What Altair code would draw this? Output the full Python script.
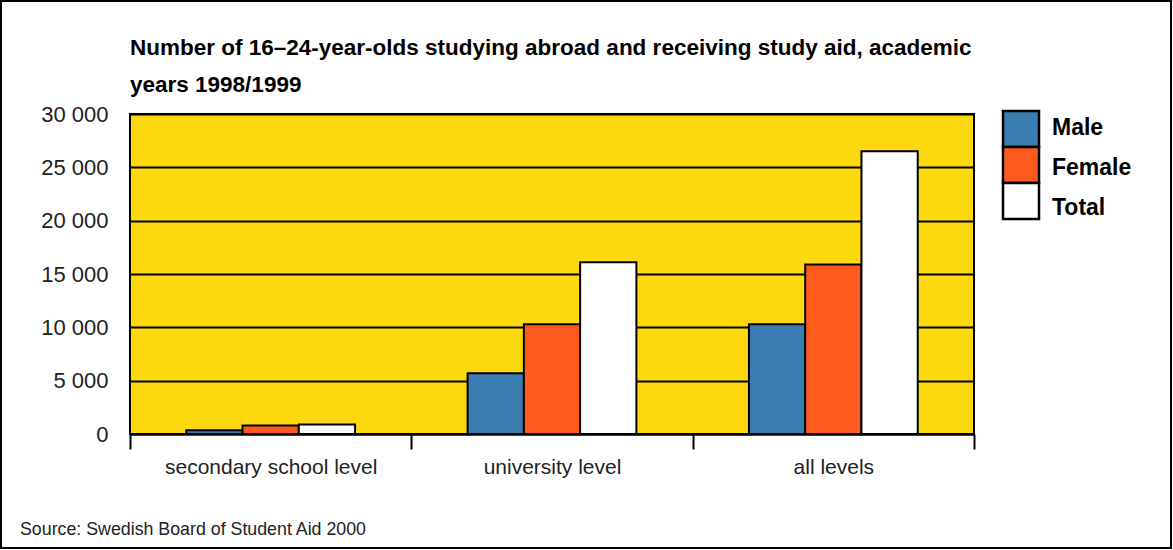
import altair as alt
import pandas as pd

levels = ["secondary school level", "university level", "all levels"]
series = ["Male", "Female", "Total"]
male = [350, 5700, 10300]
female = [800, 10300, 15900]
total = [900, 16100, 26500]
colors = ["#3A7DB0", "#FF5A1E", "#FFFFFF"]
title_line1 = "Number of 16\u201324-year-olds studying abroad and receiving study aid, academic"
title_line2 = "years 1998/1999"
source_note = "Source: Swedish Board of Student Aid 2000"

rows = []
for i, lv in enumerate(levels):
    for s, vals in zip(series, [male, female, total]):
        rows.append({"level": lv, "series": s, "value": vals[i]})
df = pd.DataFrame(rows)
legend_df = pd.DataFrame({"series": series})

FONT = "Liberation Sans"
fill_scale = alt.Scale(domain=series, range=colors)

bars = alt.Chart(df).mark_bar(stroke="black", strokeWidth=2).encode(
    x=alt.X("level:N", sort=levels, title=None,
            scale=alt.Scale(paddingInner=0, paddingOuter=0),
            axis=alt.Axis(tickBand="extent", labelAngle=0, labelFont=FONT, labelFontSize=21,
                          labelColor="#222", tickColor="black", tickWidth=2, tickSize=15,
                          domainColor="black", domainWidth=2, labelPadding=7, grid=False,
                          labelLimit=0)),
    xOffset=alt.XOffset("series:N", sort=series,
                        scale=alt.Scale(paddingOuter=1, paddingInner=0)),
    y=alt.Y("value:Q", title=None,
            scale=alt.Scale(domain=[0, 30000], nice=False),
            axis=alt.Axis(values=[0, 5000, 10000, 15000, 20000, 25000, 30000],
                          labelExpr="replace(format(datum.value, ','), ',', ' ')",
                          labelFont=FONT, labelFontSize=22, labelColor="#222",
                          ticks=False, labelPadding=22, domain=False,
                          grid=True, gridColor="black", gridWidth=2, gridOpacity=1)),
    fill=alt.Fill("series:N", sort=series, scale=fill_scale, legend=None),
)

legend_swatches = alt.Chart(legend_df).mark_rect(stroke="black", strokeWidth=2.5).encode(
    x=alt.value(873), x2=alt.value(909),
    y=alt.Y("series:N", sort=series, title=None, axis=None,
            scale=alt.Scale(domain=series, range=[-3, 105], paddingInner=0, paddingOuter=0)),
    fill=alt.Fill("series:N", sort=series, scale=fill_scale, legend=None),
)

legend_labels = alt.Chart(legend_df).mark_text(
    align="left", baseline="middle", font=FONT, fontSize=23, fontWeight="bold", color="black"
).encode(
    x=alt.value(922),
    y=alt.Y("series:N", sort=series, title=None, axis=None,
            scale=alt.Scale(domain=series, range=[-6, 114], paddingInner=0, paddingOuter=0)),
    text="series:N",
)

frame = alt.Chart(pd.DataFrame({"a": [0]})).mark_rect(
    fill=None, stroke="black", strokeWidth=2
).encode(x=alt.value(-129), x2=alt.value(1041), y=alt.value(-113), y2=alt.value(434))

src = alt.Chart(pd.DataFrame({"t": [source_note]})).mark_text(
    align="left", baseline="middle", font=FONT, fontSize=17.8, color="#222"
).encode(text="t:N", x=alt.value(-110), y=alt.value(416))

t1 = alt.Chart(pd.DataFrame({"t": [title_line1]})).mark_text(
    align="left", baseline="alphabetic", font=FONT, fontSize=22.5, fontWeight="bold",
    color="black"
).encode(text="t:N", x=alt.value(0), y=alt.value(-59))

t2 = alt.Chart(pd.DataFrame({"t": [title_line2]})).mark_text(
    align="left", baseline="alphabetic", font=FONT, fontSize=22.5, fontWeight="bold",
    color="black"
).encode(text="t:N", x=alt.value(0), y=alt.value(-22))

chart = alt.layer(bars, legend_swatches, legend_labels, frame, src, t1, t2).resolve_scale(
    y="independent"
).properties(
    width=844, height=320,
    autosize=alt.AutoSizeParams(type="none"),
    padding={"left": 130, "top": 114, "right": 199, "bottom": 116},
).configure_view(
    fill="#FDD80F", stroke="black", strokeWidth=2
)

chart.save("out.html", embed_options={"renderer": "svg", "actions": False})
